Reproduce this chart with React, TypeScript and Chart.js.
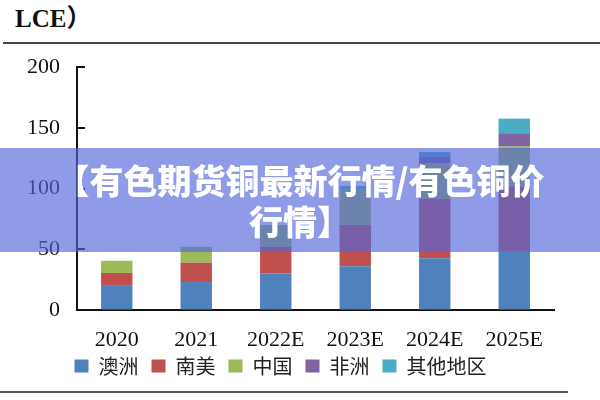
import React, { useEffect, useRef } from "react";
import { Chart, registerables } from "chart.js";

Chart.register(...registerables);

// Lithium supply by region, 万吨 LCE
const years = ["2020", "2021", "2022E", "2023E", "2024E", "2025E"];
const australia = [20.5, 23, 30, 36, 42.5, 48];
const southAmerica = [10, 16, 22, 34, 49, 53.5];
const china = [10, 13, 18, 29, 29, 33];
const africa = [0, 0, 0, 0, 5.5, 11];
const others = [0, 0, 0, 3, 4, 12];

const seriesNames = ["澳洲", "南美", "中国", "非洲", "其他地区"];
const seriesColors = ["#4F81BD", "#C0504D", "#9BBB59", "#8064A2", "#4BACC6"];

const yTickValues = [0, 50, 100, 150, 200];

const serifFont = '"Liberation Serif", "Times New Roman", serif';
const cjkFont = '"Noto Sans CJK SC", sans-serif';

// Short tick marks drawn on the inner side of the value axis
const inwardTicks = {
  id: "inwardTicks",
  afterDraw(chart: any) {
    const scale = chart.scales.y;
    const { ctx, chartArea } = chart;
    ctx.save();
    ctx.strokeStyle = "#111";
    ctx.lineWidth = 2;
    scale.ticks.forEach((t: any) => {
      const py = Math.round(scale.getPixelForValue(t.value));
      ctx.beginPath();
      ctx.moveTo(chartArea.left, py);
      ctx.lineTo(chartArea.left + 8, py);
      ctx.stroke();
    });
    ctx.restore();
  },
};

// Pull the legend row up so it sits close under the category labels
const tightLegend = {
  id: "tightLegend",
  afterLayout(chart: any) {
    const lg = chart.legend;
    if (!lg) return;
    const shift = 10;
    lg.top -= shift;
    lg.bottom -= shift;
  },
};

export default function App() {
  const canvasRef = useRef<HTMLCanvasElement | null>(null);

  useEffect(() => {
    if (!canvasRef.current) return;
    const values = [australia, southAmerica, china, africa, others];
    const chart = new Chart(canvasRef.current, {
      type: "bar",
      data: {
        labels: years,
        datasets: values.map((data, i) => ({
          label: seriesNames[i],
          data,
          backgroundColor: seriesColors[i],
          borderWidth: 0,
          barPercentage: 0.395,
          categoryPercentage: 1.0,
        })),
      },
      options: {
        animation: false,
        responsive: false,
        layout: { padding: { left: 7, right: 46, top: 67, bottom: 4 } },
        plugins: {
          legend: {
            position: "bottom",
            labels: {
              boxWidth: 14,
              boxHeight: 13,
              padding: 13,
              color: "#222",
              font: { family: cjkFont, size: 20, weight: "normal" },
            },
          },
          tooltip: { enabled: false },
        },
        scales: {
          x: {
            stacked: true,
            grid: { display: true, drawOnChartArea: false, drawTicks: false },
            border: { display: true, color: "#111", width: 2 },
            ticks: {
              padding: 17,
              color: "#111",
              font: { family: serifFont, size: 22 },
            },
            afterFit: (s: any) => {
              s.height = 43;
            },
          },
          y: {
            stacked: true,
            min: 0,
            max: 200,
            afterBuildTicks: (s: any) => {
              s.ticks = yTickValues.map((v) => ({ value: v }));
            },
            grid: { display: true, drawOnChartArea: false, drawTicks: false },
            border: { display: true, color: "#111", width: 2 },
            ticks: {
              padding: 17,
              color: "#111",
              font: { family: serifFont, size: 22 },
            },
            afterFit: (s: any) => {
              s.width = 70;
            },
          },
        },
      },
      plugins: [inwardTicks, tightLegend],
    });
    return () => chart.destroy();
  }, []);

  return (
    <div
      style={{
        position: "fixed",
        left: 0,
        top: 0,
        width: 600,
        height: 400,
        background: "#fff",
        overflow: "hidden",
      }}
    >
      <div
        style={{
          position: "absolute",
          left: 15,
          top: 6,
          fontFamily: `"Liberation Serif", "Times New Roman", ${cjkFont}`,
          fontWeight: 700,
          fontSize: 25,
          lineHeight: "25px",
          color: "#111",
        }}
      >
        LCE）
      </div>
      <div
        style={{
          position: "absolute",
          left: 3,
          top: 42,
          width: 597,
          height: 2,
          background: "#444",
        }}
      />
      <canvas
        ref={canvasRef}
        width={600}
        height={400}
        style={{ position: "absolute", left: 0, top: 0, width: 600, height: 400 }}
      />
      <div
        style={{
          position: "absolute",
          left: 0,
          top: 391,
          width: 568,
          height: 2,
          background: "#555",
        }}
      />
      <div
        style={{
          position: "absolute",
          left: 0,
          top: 148,
          width: 600,
          height: 104,
          background: "rgba(83, 101, 218, 0.65)",
          color: "#fff",
          fontFamily: cjkFont,
          fontWeight: 900,
          fontSize: 34,
          lineHeight: "41px",
          textAlign: "center",
          paddingTop: 11,
          boxSizing: "border-box",
        }}
      >
        <div>【有色期货铜最新行情/有色铜价</div>
        <div>行情】</div>
      </div>
    </div>
  );
}
